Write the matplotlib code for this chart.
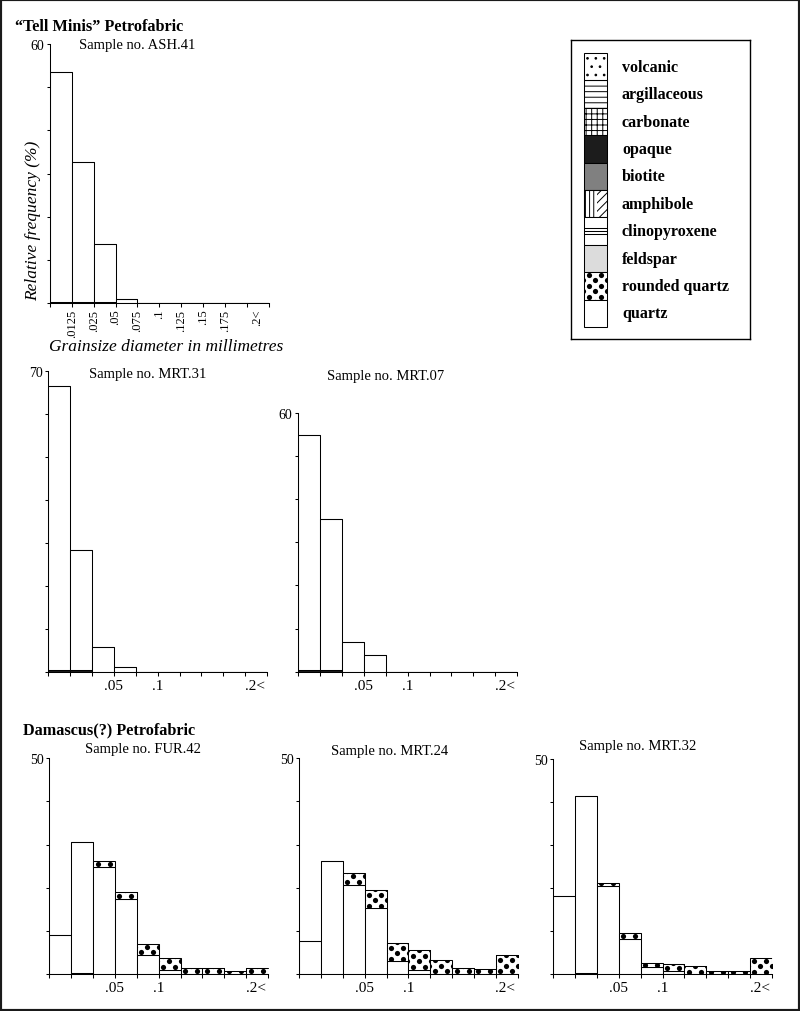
import numpy as np
import matplotlib
matplotlib.use("Agg")
import matplotlib.pyplot as plt
from matplotlib.patches import Rectangle

W, H, DPI = 800, 1012, 100

plt.rcParams['font.family'] = ['Liberation Serif', 'DejaVu Serif']
plt.rcParams['hatch.linewidth'] = 0.7

# ------------------------------------------------------------
# data: relative frequency (%) per grain-size class (10 classes)
# ------------------------------------------------------------
n_bins = 10
top_labels = ['.0125', '.025', '.05', '.075', '.1', '.125', '.15', '.175']
short_labels = {3: '.05', 5: '.1'}
last_label = '.2<'

ash41_opaque  = [0.3, 0.3, 0.3, 0, 0, 0, 0, 0, 0, 0]
ash41_quartz  = [53.1, 32.3, 13.4, 1.0, 0, 0, 0, 0, 0, 0]
ash41_rounded = [0, 0, 0, 0, 0, 0, 0, 0, 0, 0]

mrt31_opaque  = [0.3, 0.3, 0, 0, 0, 0, 0, 0, 0, 0]
mrt31_quartz  = [66.1, 28.1, 5.7, 1.0, 0, 0, 0, 0, 0, 0]
mrt31_rounded = [0, 0, 0, 0, 0, 0, 0, 0, 0, 0]

mrt07_opaque  = [0.3, 0.3, 0, 0, 0, 0, 0, 0, 0, 0]
mrt07_quartz  = [54.6, 35.1, 6.8, 3.9, 0, 0, 0, 0, 0, 0]
mrt07_rounded = [0, 0, 0, 0, 0, 0, 0, 0, 0, 0]

fur42_opaque  = [0, 0.3, 0, 0, 0, 0, 0, 0, 0, 0]
fur42_quartz  = [9.1, 30.4, 24.9, 17.5, 4.4, 1.0, 0, 0, 0, 0]
fur42_rounded = [0, 0, 1.2, 1.4, 2.5, 2.6, 1.5, 1.5, 0.6, 1.5]

mrt24_opaque  = [0, 0, 0, 0, 0, 0, 0, 0, 0, 0]
mrt24_quartz  = [7.6, 26.1, 20.7, 15.2, 2.9, 1.0, 0, 0, 0, 0]
mrt24_rounded = [0, 0, 2.6, 4.2, 4.4, 4.6, 3.2, 1.4, 1.2, 4.4]

mrt32_opaque  = [0, 0.3, 0, 0, 0, 0, 0, 0, 0, 0]
mrt32_quartz  = [18.1, 41.2, 20.6, 8.3, 1.6, 0.8, 0, 0, 0, 0]
mrt32_rounded = [0, 0, 0.7, 1.4, 1.0, 1.7, 1.9, 0.7, 0.7, 3.9]

legend_names = ['volcanic', 'argillaceous', 'carbonate', 'opaque', 'biotite',
                'amphibole', 'clinopyroxene', 'feldspar', 'rounded quartz', 'quartz']
legend_faces = ['white', 'white', 'white', '#1c1c1c', '#808080',
                'white', 'white', '#dcdcdc', 'white', 'white']
legend_hatch = ['..', '---', '+++', None, None, None, None, None, None, None]

# ------------------------------------------------------------
# helpers (layout in pixels, measured from top-left)
# ------------------------------------------------------------
fig = plt.figure(figsize=(W / DPI, H / DPI), dpi=DPI)


def fx(x):
    return x / W


def fy(y):
    return 1 - y / H


def pixel_axes(left, right, base, top):
    return fig.add_axes([fx(left), fy(base), (right - left) / W, (base - top) / H])


DOT_DX, DOT_DY, DOT_S = 12.0, 5.5, 14.0


def dot_fill(ax, rect, sx, sy):
    # rounded-quartz pattern: staggered black dots clipped to the patch
    x0, y0 = rect.get_x(), rect.get_y()
    w, h = rect.get_width(), rect.get_height()
    dx, dy = DOT_DX / sx, DOT_DY / sy
    xs, ys = [], []
    rows = y0 + (np.arange(int(h / dy) + 2) + 0.5) * dy
    for k, yr in enumerate(rows):
        shift = 0 if k % 2 == 0 else 0.5 * dx
        cols = x0 + 4.5 / sx + shift + np.arange(-1, int(w / dx) + 2) * dx
        xs += list(cols)
        ys += [yr] * len(cols)
    sc = ax.scatter(xs, ys, s=DOT_S, c='black', linewidths=0, zorder=3)
    sc.set_clip_path(rect)


def histogram(ax, opaque, quartz, rounded, ymax, box):
    left, right, base, top = box
    opaque = np.array(opaque, float)
    quartz = np.array(quartz, float)
    rounded = np.array(rounded, float)
    x = np.arange(n_bins) + 0.5
    kw = dict(width=1.0, edgecolor='black', linewidth=0.75)
    ax.bar(x, opaque, bottom=0, color='#1c1c1c', **kw)
    ax.bar(x, quartz, bottom=opaque, color='white', **kw)
    rq = ax.bar(x, rounded, bottom=opaque + quartz, color='white', **kw)
    sx = (right - left) / n_bins
    sy = (base - top) / ymax
    for rect, v in zip(rq.patches, rounded):
        if v > 0:
            dot_fill(ax, rect, sx, sy)

    ax.set_xlim(0, n_bins)
    ax.set_ylim(0, ymax)
    for s in ['top', 'right']:
        ax.spines[s].set_visible(False)
    for s in ['left', 'bottom']:
        ax.spines[s].set_linewidth(0.75)
    ax.patch.set_alpha(0)
    ax.set_yticks(np.arange(0, ymax + 1, 10))
    ax.set_yticklabels([''] * (ymax // 10) + [str(ymax)])
    ax.tick_params(axis='y', direction='out', length=2.2, width=0.75,
                   labelsize=10, pad=2)
    ax.set_xticks(np.arange(n_bins + 1))
    ax.tick_params(axis='x', direction='out', length=3.1, width=0.75,
                   labelsize=11, pad=2)


def title(x, y, s):
    fig.text(fx(x), fy(y), s, ha='center', va='center', fontsize=10.5)


# ------------------------------------------------------------
# "Tell Minis" petrofabric
# ------------------------------------------------------------
fig.text(fx(15), fy(31), '\u201cTell Minis\u201d Petrofabric', ha='left',
         va='baseline', fontsize=11.7, fontweight='bold')

box = (50, 268.5, 304, 45)
ax = pixel_axes(*box)
histogram(ax, ash41_opaque, ash41_quartz, ash41_rounded, 60, box)
ax.set_xticklabels([''] + top_labels + ['', ''], rotation=90, fontsize=9)
ax.tick_params(axis='x', pad=1)
ax.annotate(last_label, (9.5, 0), xycoords=('data', 'axes fraction'),
            xytext=(0, -4.1), textcoords='offset points', rotation=90,
            ha='center', va='top', fontsize=9)
title(137, 45, 'Sample no. ASH.41')
fig.text(fx(33.5), fy(221), 'Relative frequency (%)', rotation=90, ha='center',
         va='center', fontsize=12.5, style='italic')
fig.text(fx(166.5), fy(351), 'Grainsize diameter in millimetres', ha='center',
         va='baseline', fontsize=12.5, style='italic')

lower_labels = [short_labels.get(i, '') for i in range(n_bins + 1)]


def lower_chart(box, opaque, quartz, rounded, ymax):
    ax = pixel_axes(*box)
    histogram(ax, opaque, quartz, rounded, ymax, box)
    ax.set_xticklabels(lower_labels)
    ax.annotate(last_label, (9.45, 0), xycoords=('data', 'axes fraction'),
                xytext=(0, -5.1), textcoords='offset points',
                ha='center', va='top', fontsize=11)
    return ax


lower_chart((48.3, 267, 672.7, 371.7), mrt31_opaque, mrt31_quartz, mrt31_rounded, 70)
title(147.5, 375, 'Sample no. MRT.31')
lower_chart((298.3, 517, 672.7, 414), mrt07_opaque, mrt07_quartz, mrt07_rounded, 60)
title(386, 377, 'Sample no. MRT.07')

# ------------------------------------------------------------
# Damascus(?) petrofabric
# ------------------------------------------------------------
fig.text(fx(23), fy(734), 'Damascus(?) Petrofabric', ha='left', va='baseline',
         fontsize=11.7, fontweight='bold')
lower_chart((49.3, 268, 975, 759.3), fur42_opaque, fur42_quartz, fur42_rounded, 50)
title(142.5, 750, 'Sample no. FUR.42')
lower_chart((299.3, 517.5, 975, 759.3), mrt24_opaque, mrt24_quartz, mrt24_rounded, 50)
title(390, 751.5, 'Sample no. MRT.24')
lower_chart((553.3, 771.7, 975.3, 760), mrt32_opaque, mrt32_quartz, mrt32_rounded, 50)
title(637.5, 746.5, 'Sample no. MRT.32')

# ------------------------------------------------------------
# legend (axes in pixel units)
# ------------------------------------------------------------
lg = fig.add_axes([fx(571), fy(340), (750 - 571) / W, (340 - 41) / H])
lg.set_xlim(571, 750)
lg.set_ylim(340, 41)
lg.set_xticks([])
lg.set_yticks([])
for s in lg.spines.values():
    s.set_linewidth(1.0)

sw_x, sw_w, sw_top = 584, 23, 54
sw_h = (328 - 54) / len(legend_names)
for i, (name, fc, hatch) in enumerate(zip(legend_names, legend_faces, legend_hatch)):
    y0 = sw_top + i * sw_h
    r = Rectangle((sw_x, y0), sw_w, sw_h, facecolor=fc, edgecolor='black',
                  linewidth=0.75, hatch=hatch)
    lg.add_patch(r)
    if name == 'amphibole':
        lg.add_patch(Rectangle((sw_x, y0), sw_w * 0.55, sw_h, facecolor='none',
                               edgecolor='black', linewidth=0, hatch='||||'))
        lg.add_patch(Rectangle((sw_x + sw_w * 0.55, y0), sw_w * 0.45, sw_h,
                               facecolor='none', edgecolor='black', linewidth=0,
                               hatch='////'))
        lg.add_patch(Rectangle((sw_x, y0), sw_w, sw_h, facecolor='none',
                               edgecolor='black', linewidth=0.75))
    elif name == 'clinopyroxene':
        lg.hlines([y0 + sw_h * 0.4, y0 + sw_h * 0.5, y0 + sw_h * 0.6],
                  sw_x, sw_x + sw_w, color='black', linewidth=0.75)
    elif name == 'rounded quartz':
        dot_fill(lg, r, 1.0, 1.0)
    lg.text(622, y0 + sw_h / 2, name, ha='left', va='center', fontsize=11.5,
            fontweight='bold')

# outer frame
fig.patches.append(Rectangle((0, 0), 1, 1, transform=fig.transFigure,
                             fill=False, edgecolor='#1a1a1a', linewidth=3))

fig.savefig('out.png', dpi=DPI)
